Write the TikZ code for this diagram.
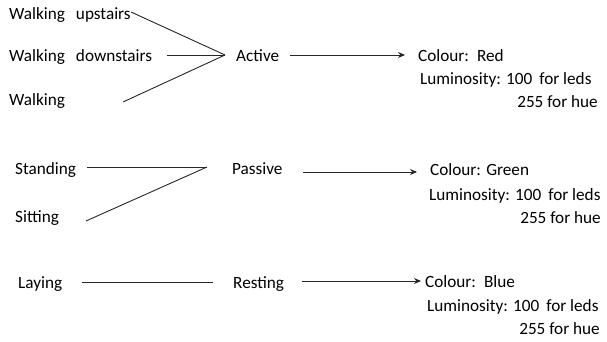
\documentclass[tikz,border=0pt]{standalone}
\usepackage{fontspec}
\setmainfont{Carlito}
\usetikzlibrary{arrows.meta}
\newcommand{\gapA}{\hspace{11pt}}
\newcommand{\gapC}{\hspace{8pt}}
\newcommand{\gapB}{\hspace{7pt}}
\begin{document}
\begin{tikzpicture}[x=1pt,y=-1pt,
  lbl/.style={anchor=base west,inner sep=0pt,font=\fontsize{17.2}{19}\selectfont},
  rlbl/.style={anchor=base east,inner sep=0pt,font=\fontsize{17.2}{19}\selectfont},
  conn/.style={line width=0.9pt,draw=black!85},
  arr/.style={conn,-{Stealth[length=7pt,width=6pt]}}]
\useasboundingbox (0,0) rectangle (607,342);
% row 1
\node[lbl] (wu) at (9,20) {Walking\gapA upstairs};
\node[lbl] (wd) at (9,62) {Walking\gapA downstairs};
\node[lbl] (w) at (9,106) {Walking};
\node[lbl] (act) at (236,62) {Active};
\node[lbl] (col1) at (418,62) {Colour:\gapC Red};
\node[lbl] (lum1) at (420,85) {Luminosity: 100\gapB for leds};
\node[rlbl] (hue1) at (598,107) {255 for hue};
\coordinate (j1) at (225,55);
\coordinate (wu-s) at (131,12);
\coordinate (wd-s) at (167,55);
\coordinate (w-s) at (123,102);
\coordinate (a1-s) at (290,55);
\coordinate (a1-e) at (405,55);
\draw[conn] (wu-s) -- (j1);
\draw[conn] (wd-s) -- (j1);
\draw[conn] (w-s) -- (j1);
\draw[arr] (a1-s) -- (a1-e);
% row 2
\node[lbl] (st) at (15,174) {Standing};
\node[lbl] (si) at (15,222) {Sitting};
\node[lbl] (pas) at (232,174) {Passive};
\node[lbl] (col2) at (430,175) {Colour: Green};
\node[lbl] (lum2) at (429,200) {Luminosity: 100\gapB for leds};
\node[rlbl] (hue2) at (601,223) {255 for hue};
\coordinate (j2) at (207,167);
\coordinate (st-s) at (87,167);
\coordinate (si-s) at (86,221);
\coordinate (a2-s) at (303,172);
\coordinate (a2-e) at (417,172);
\draw[conn] (st-s) -- (j2);
\draw[conn] (si-s) -- (j2);
\draw[arr] (a2-s) -- (a2-e);
% row 3
\node[lbl] (la) at (18,288) {Laying};
\node[lbl] (re) at (233,288) {Resting};
\node[lbl] (col3) at (425,287) {Colour:\gapC Blue};
\node[lbl] (lum3) at (427,311) {Luminosity: 100\gapB for leds};
\node[rlbl] (hue3) at (600,334) {255 for hue};
\coordinate (la-s) at (82,282);
\coordinate (la-e) at (213,282);
\coordinate (a3-s) at (302,281);
\coordinate (a3-e) at (421,281);
\draw[conn] (la-s) -- (la-e);
\draw[arr] (a3-s) -- (a3-e);
\end{tikzpicture}
\end{document}
